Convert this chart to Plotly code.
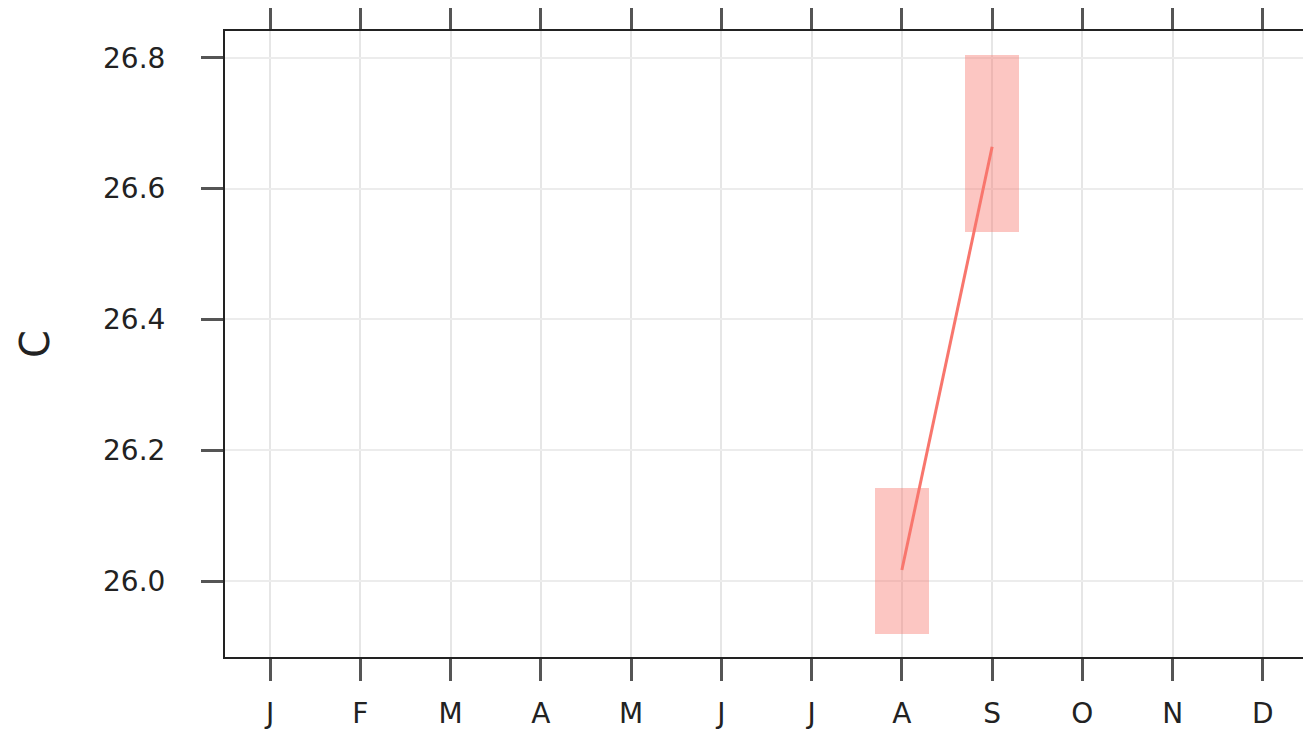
import plotly.graph_objects as go

months = ["J", "F", "M", "A", "M", "J", "J", "A", "S", "O", "N", "D"]
month_pos = list(range(1, 13))

obs_month = [8, 9]
obs_value = [26.017, 26.664]
range_low = [25.919, 26.533]
range_high = [26.143, 26.805]

y_ticks = [26.0, 26.2, 26.4, 26.6, 26.8]
y_labels = ["26.0", "26.2", "26.4", "26.6", "26.8"]

fig = go.Figure()
fig.add_trace(go.Bar(
    x=obs_month,
    y=[h - l for h, l in zip(range_high, range_low)],
    base=range_low,
    width=0.6,
    marker=dict(color="rgba(248,118,109,0.42)", line=dict(width=0)),
    hoverinfo="skip",
    showlegend=False,
))
fig.add_trace(go.Scatter(
    x=obs_month, y=obs_value, mode="lines",
    line=dict(color="#F8766D", width=3),
    showlegend=False,
))

font = "DejaVu Sans, sans-serif"
# page body has an 8px margin, so the figure is sized to fit inside the window
fig.update_layout(
    width=1303, height=727,
    margin=dict(l=217, r=3, t=23, b=78, autoexpand=False),
    paper_bgcolor="white", plot_bgcolor="white",
    font=dict(family=font, size=28, color="#222222"),
    bargap=0,
)
fig.update_xaxes(
    range=[0.5, 12.5], automargin=False,
    tickmode="array", tickvals=month_pos, ticktext=months,
    ticks="outside", ticklen=22, tickwidth=3, tickcolor="#555555",
    showline=True, linecolor="#222222", linewidth=2, mirror="allticks",
    showgrid=True, gridcolor="#e6e6e6", gridwidth=2,
    zeroline=False,
    tickfont=dict(size=28, color="#222222"),
    ticklabelstandoff=8,
)
fig.update_yaxes(
    range=[25.884, 26.841], automargin=False,
    tickmode="array", tickvals=y_ticks, ticktext=y_labels,
    ticks="outside", ticklen=22, tickwidth=3, tickcolor="#555555",
    showline=True, linecolor="#222222", linewidth=2, mirror="allticks",
    showgrid=True, gridcolor="#ececec", gridwidth=2,
    zeroline=False,
    tickfont=dict(size=28, color="#222222"),
    ticklabelstandoff=30,
    title=dict(text="C", font=dict(size=40, color="#222222"), standoff=41),
)

fig.write_html("out.html")
